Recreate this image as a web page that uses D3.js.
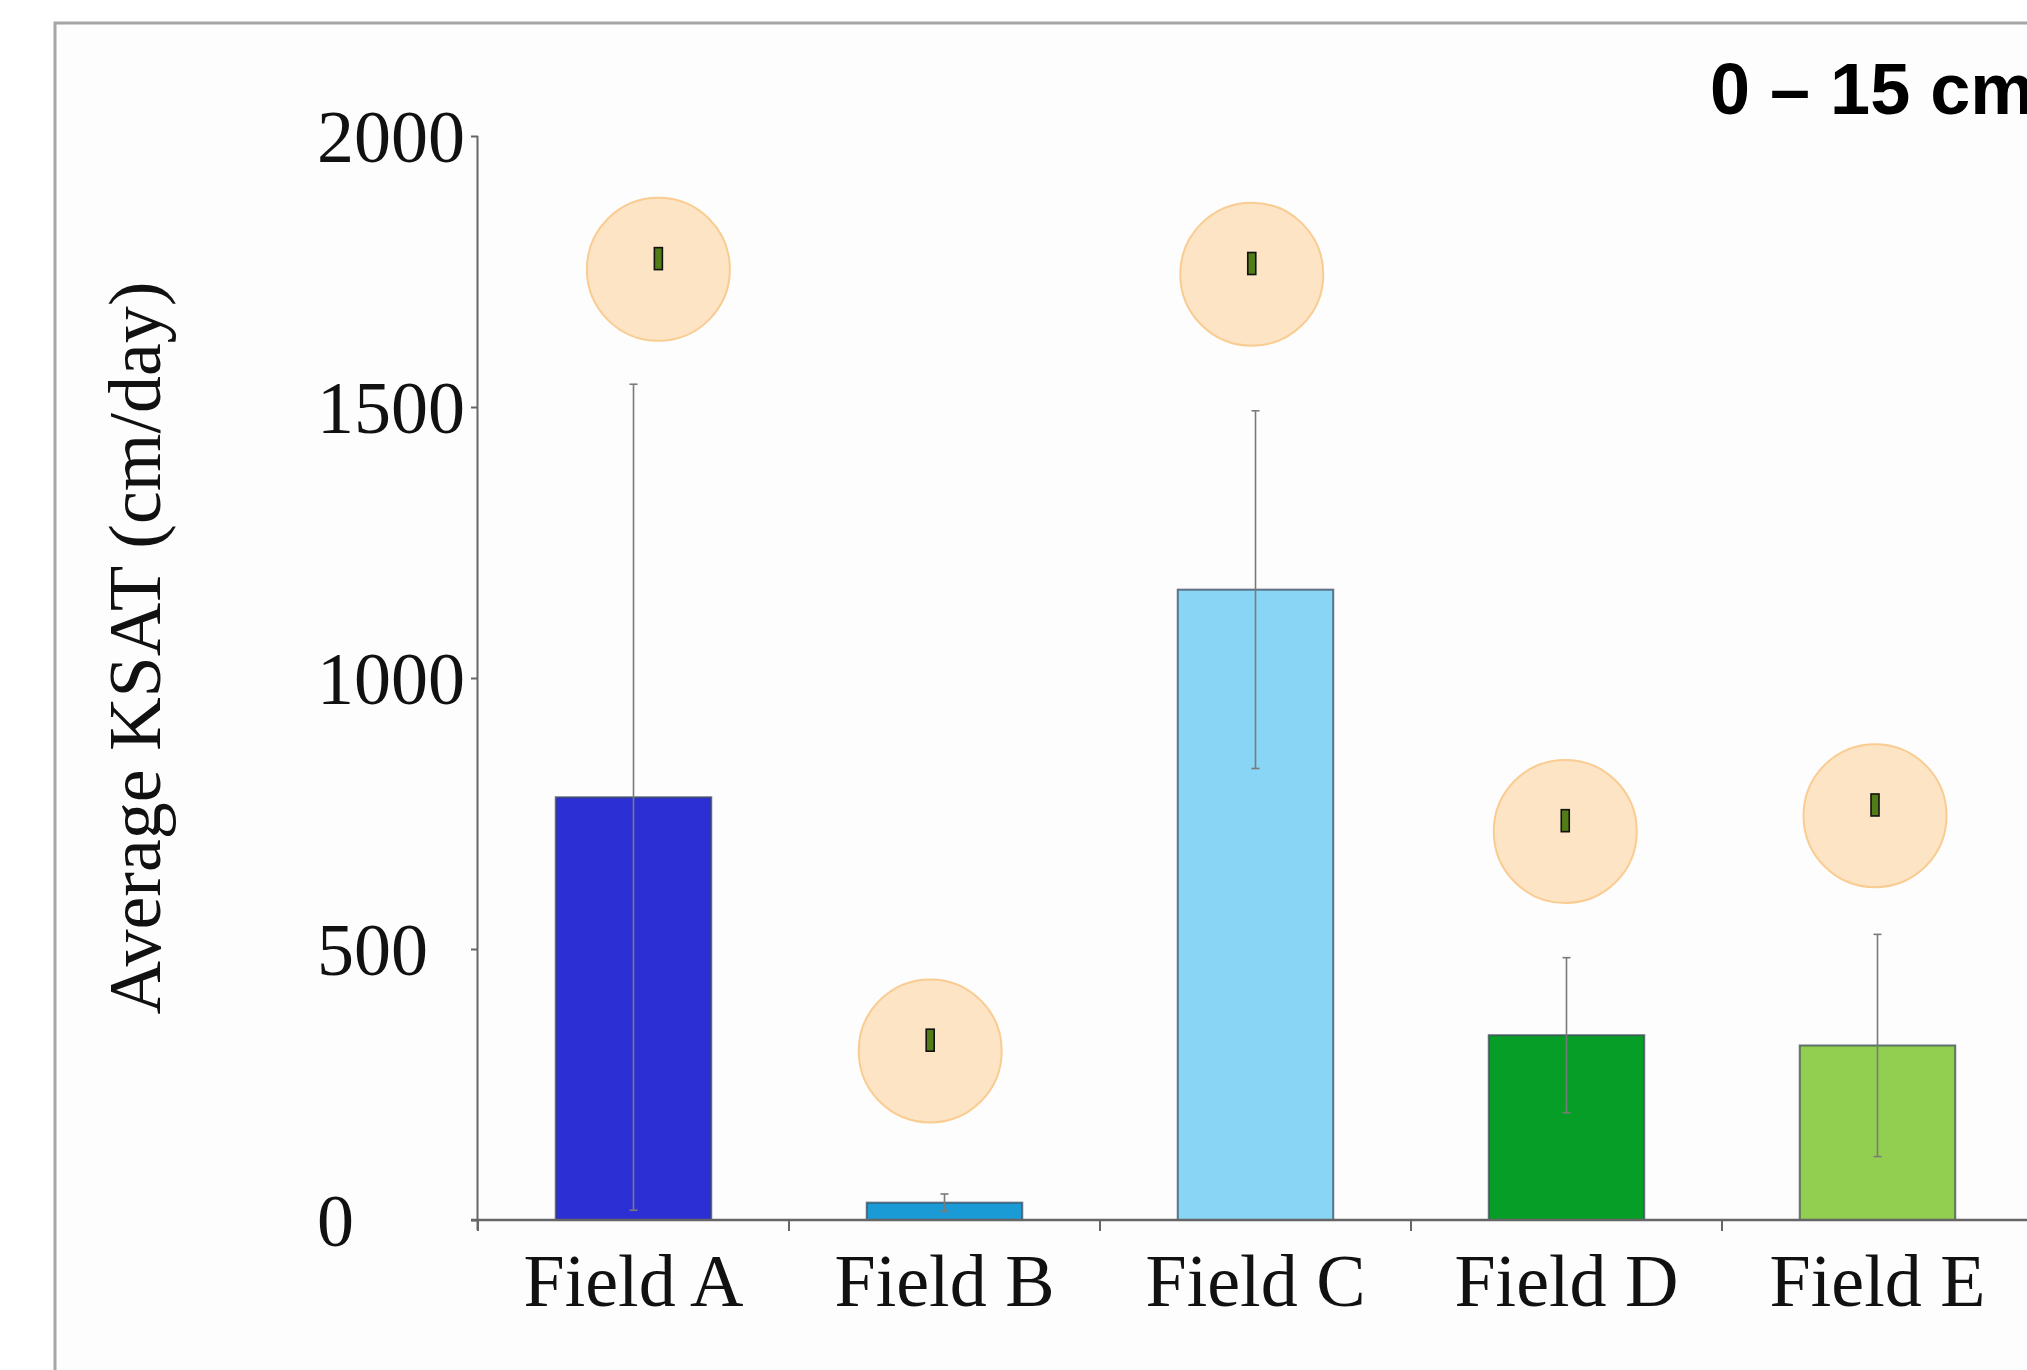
<!DOCTYPE html>
<html>
<head>
<meta charset="utf-8">
<script src="https://cdn.jsdelivr.net/npm/d3@7"></script>
<style>
  html, body { margin: 0; padding: 0; background: #ffffff; overflow: hidden; }
  svg { display: block; }
</style>
</head>
<body>
<svg id="chart" width="2027" height="1370"></svg>
<script>
// ---- Data ----
const categories = ["Field A", "Field B", "Field C", "Field D", "Field E"];
const meanKsat   = [780, 32, 1163, 341, 322];
const sdKsat     = [762, 16, 330, 143, 205];
const barColors  = ["#2b2fd4", "#1b9bd6", "#89d5f5", "#069e27", "#92cf50"];
const yTicks     = [0, 500, 1000, 1500, 2000];
// annotation markers (category index position, value)
const markerPos  = [0.08, 0.954, 1.988, 2.996, 3.992];
const markerVal  = [1754, 312, 1745, 717, 746];
const titleText  = "0 \u2013 15 cm";
const yLabel     = "Average KSAT (cm/day)";

// ---- Layout ----
const W = 2027, H = 1370;
const svg = d3.select("#chart");
const serif = "'Liberation Serif', 'Times New Roman', serif";

// frame
svg.append("rect").attr("x", 55).attr("y", 23).attr("width", 2100).attr("height", 1500)
  .attr("fill", "#fdfdfd").attr("stroke", "#a6a6a6").attr("stroke-width", 3);

const x0 = 478, y0 = 1220, yTop = 136;
const x = d3.scaleBand().domain(categories).range([x0, x0 + 5 * 311])
  .paddingInner(0.5).paddingOuter(0.25);
const y = d3.scaleLinear().domain([0, 2000]).range([y0, yTop]);
const xi = d3.scaleLinear().domain([0, 1]).range([x(categories[0]) + x.bandwidth() / 2, x(categories[1]) + x.bandwidth() / 2]);

// bars
svg.append("g").selectAll("rect").data(categories).join("rect")
  .attr("x", d => x(d))
  .attr("y", (d, i) => y(meanKsat[i]))
  .attr("width", x.bandwidth())
  .attr("height", (d, i) => y(0) - y(meanKsat[i]))
  .attr("fill", (d, i) => barColors[i])
  .attr("stroke", "#3d4a5c").attr("stroke-opacity", 0.75).attr("stroke-width", 2);

// error bars
const eg = svg.append("g").attr("stroke", "#7a7a7a").attr("stroke-width", 1.6);
categories.forEach((c, i) => {
  const cx = x(c) + x.bandwidth() / 2;
  const lo = Math.max(0, meanKsat[i] - sdKsat[i]), hi = meanKsat[i] + sdKsat[i];
  eg.append("line").attr("x1", cx).attr("x2", cx).attr("y1", y(lo)).attr("y2", y(hi));
  eg.append("line").attr("x1", cx - 4).attr("x2", cx + 4).attr("y1", y(hi)).attr("y2", y(hi));
  eg.append("line").attr("x1", cx - 4).attr("x2", cx + 4).attr("y1", y(lo)).attr("y2", y(lo));
});

// y axis
const ya = svg.append("g").attr("transform", `translate(${x0},0)`)
  .call(d3.axisLeft(y).tickValues(yTicks).tickSize(7).tickFormat(d3.format("d")));
ya.select(".domain").attr("stroke", "#666").attr("stroke-width", 2)
  .attr("d", `M-0.5,${yTop}V${y0 + 10}`);
ya.selectAll(".tick line").attr("stroke", "#666").attr("stroke-width", 2);
ya.selectAll(".tick text")
  .attr("x", 317 - x0).attr("text-anchor", "start").attr("dy", "0.34em")
  .attr("font-family", serif).attr("font-size", 74).attr("fill", "#111");

// x axis
const xa = svg.append("g").attr("transform", `translate(0,${y0})`)
  .call(d3.axisBottom(x).tickSize(0));
xa.select(".domain").attr("stroke", "#666").attr("stroke-width", 2.5)
  .attr("d", `M${x0 - 7},0H${W + 20}`);
xa.selectAll(".tick text")
  .attr("y", 86).attr("dy", 0)
  .attr("font-family", serif).attr("font-size", 74).attr("fill", "#111");
// boundary ticks
xa.append("g").selectAll("line").data(d3.range(categories.length + 1)).join("line")
  .attr("x1", i => x0 + i * x.step()).attr("x2", i => x0 + i * x.step())
  .attr("y1", 0).attr("y2", 11)
  .attr("stroke", "#666").attr("stroke-width", 2);

// markers
const mg = svg.append("g");
markerPos.forEach((p, i) => {
  const cx = xi(p), cy = y(markerVal[i]);
  mg.append("circle").attr("cx", cx).attr("cy", cy).attr("r", 71.5)
    .attr("fill", "#fde4c5").attr("stroke", "#f9cc92").attr("stroke-width", 2);
  mg.append("rect").attr("x", cx - 4).attr("y", cy - 10.7 - 11).attr("width", 8).attr("height", 22)
    .attr("fill", "#527c18").attr("stroke", "#111").attr("stroke-width", 1.6);
});

// y label
svg.append("text")
  .attr("transform", `translate(160,648) rotate(-90)`)
  .attr("text-anchor", "middle")
  .attr("font-family", serif).attr("font-size", 74).attr("fill", "#111")
  .text(yLabel);

// title
svg.append("text").attr("x", 1710).attr("y", 114)
  .attr("font-family", "'Liberation Sans', Arial, sans-serif").attr("font-weight", "bold")
  .attr("font-size", 72).attr("fill", "#000")
  .text(titleText);
</script>
</body>
</html>
